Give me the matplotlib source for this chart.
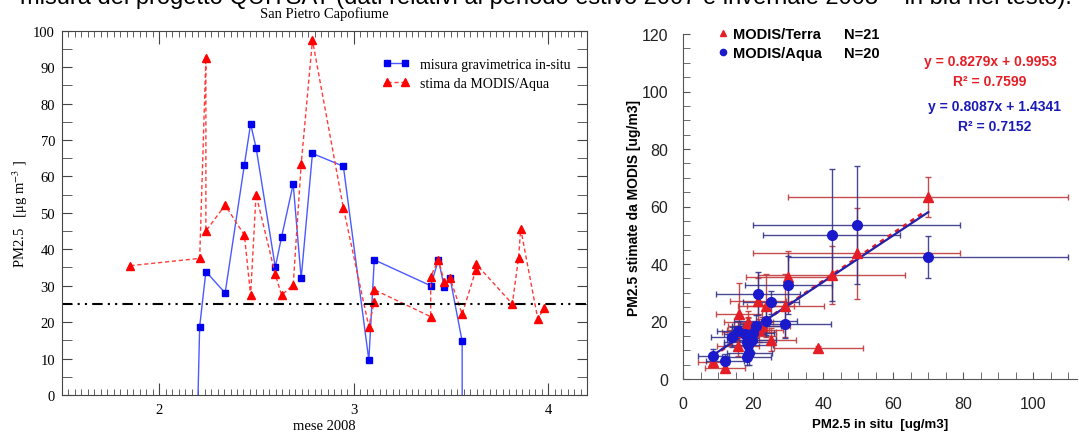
"""PM2.5 San Pietro Capofiume: time series and MODIS scatter comparison."""
import matplotlib
matplotlib.use("Agg")
import matplotlib.pyplot as plt
from matplotlib.lines import Line2D
from matplotlib.ticker import MultipleLocator
import numpy as np

# ---- left panel: time series (mese 2008), -999 = missing value
insitu_month = [1.75, 2.208, 2.240, 2.339, 2.438, 2.470, 2.498, 2.597, 2.629, 2.689,
                2.730, 2.788, 2.947, 3.078, 3.106, 3.396, 3.436, 3.466, 3.496, 3.558, 3.562]
insitu_pm25 = [-999, 18.8, 33.9, 28.0, 63.2, 74.4, 67.9, 35.1, 43.3, 57.9,
               32.0, 66.3, 62.8, 9.6, 37.1, 30.0, 37.1, 29.6, 32.0, 14.7, -999]

aqua_month = [1.852, 2.208, 2.240, 2.240, 2.339, 2.438, 2.470, 2.498, 2.597, 2.629,
              2.689, 2.730, 2.788, 2.947, 3.078, 3.106, 3.106, 3.396, 3.396, 3.436,
              3.466, 3.496, 3.558, 3.629, 3.629, 3.816, 3.848, 3.859, 3.947, 3.979]
aqua_pm25 = [35.5, 37.5, 92.5, 45.0, 52.1, 43.9, 27.4, 55.0, 33.1, 27.4,
             30.2, 63.3, 97.4, 51.4, 18.7, 25.6, 28.9, 21.5, 32.5, 37.1,
             31.1, 32.0, 22.2, 34.4, 36.0, 25.0, 37.7, 45.6, 20.9, 23.8]
limit_pm25 = 25

# ---- right panel: scatter in situ vs MODIS
terra_x = [8.6, 11.9, 15.7, 15.9, 18.4, 18.4, 18.6, 20.0, 19.5, 17.0, 21.5,
           21.3, 23.6, 25.1, 29.1, 30.0, 38.6, 42.4, 49.5, 70.0, 22.5]
terra_y = [6.0, 3.7, 11.6, 22.5, 17.1, 18.5, 19.7, 16.2, 15.0, 16.5, 17.0,
           27.1, 25.5, 13.7, 25.5, 35.4, 10.8, 36.2, 43.7, 63.2, 18.5]
terra_xerr = [4.5, 5.6, 6.0, 6.5, 6.0, 5.5, 7.0, 6.5, 7.0, 6.0, 7.0,
              8.0, 8.0, 7.0, 11.0, 12.0, 12.8, 21.0, 29.5, 40.0, 8.0]
terra_yerr = [1.2, 1.2, 3.5, 11.0, 4.0, 3.0, 4.0, 3.5, 3.0, 3.0, 4.0,
              8.0, 11.0, 4.0, 11.0, 9.0, 0.8, 10.0, 15.7, 7.0, 3.0]

aqua_x = [8.6, 11.9, 13.9, 15.7, 17.5, 18.1, 18.1, 18.9, 18.5, 19.6,
          20.0, 20.8, 21.3, 23.6, 25.1, 29.1, 30.0, 42.4, 49.5, 70.0]
aqua_y = [8.1, 6.1, 14.7, 16.6, 15.5, 12.9, 7.8, 8.9, 11.7, 13.4,
          16.0, 18.3, 29.6, 20.3, 26.7, 19.1, 32.7, 50.2, 53.7, 42.5]
aqua_xerr = [4.5, 5.5, 6.0, 6.0, 6.0, 6.5, 7.0, 6.5, 7.0, 7.0,
             6.0, 7.0, 12.0, 9.0, 8.0, 13.0, 12.5, 19.5, 29.5, 40.0]
aqua_yerr = [2.5, 2.5, 3.5, 3.5, 3.0, 3.0, 3.0, 4.0, 3.0, 4.0,
             3.0, 4.0, 7.5, 5.0, 4.0, 5.0, 10.0, 23.0, 20.5, 7.3]

terra_fit = (0.8279, 0.9953, 0.7599)
aqua_fit = (0.8087, 1.4341, 0.7152)

RED = "#e41e26"
BLUE = "#1a1acc"

fig = plt.figure(figsize=(10.79, 4.35), dpi=100)
W, H = 1079, 435

# heading of the page, only its lower part falls inside the picture
fig.text(20 / W, 1 - 4 / H,
         "misura del progetto QUITSAT (dati relativi al periodo estivo 2007 e invernale 2008 \u2013 in blu nel testo).",
         family="Liberation Sans", fontsize=17, va="baseline", ha="left")

# ---------------- left panel
serif = "Liberation Serif"
plt.rcParams["mathtext.fontset"] = "stix"
ax1 = fig.add_axes([62 / W, 1 - 396 / H, (587 - 62) / W, (396 - 31.7) / H])
ax1.plot(insitu_month, insitu_pm25, color="#4a5aff", lw=1.0, marker="s", ms=4.5,
         mfc="#0000ee", mec="#0000ee", label="misura gravimetrica in-situ")
ax1.plot(aqua_month, aqua_pm25, color="#ff3b3b", lw=1.0, ls=(0, (3, 2)), marker="^",
         ms=5.5, mfc="#ff0000", mec="#ff0000", label="stima da MODIS/Aqua")
ax1.axhline(limit_pm25, color="black", lw=1.5, ls=(0, (5, 2.5, 1, 2.5, 1, 2.5)))

ax1.set_xlim(1.5, 4.2)
ax1.set_ylim(0, 100)
ax1.set_xticks([2, 3, 4])
ax1.xaxis.set_minor_locator(MultipleLocator(1 / 30))
ax1.yaxis.set_major_locator(MultipleLocator(10))
ax1.yaxis.set_minor_locator(MultipleLocator(5))
ax1.tick_params(which="both", direction="in", top=True, right=True, color="#444444")
ax1.tick_params(axis="x", which="major", length=9, pad=6)
ax1.tick_params(axis="x", which="minor", length=4)
ax1.tick_params(axis="y", which="both", length=7, pad=5)
for lab in ax1.get_xticklabels() + ax1.get_yticklabels():
    lab.set_family(serif)
    lab.set_fontsize(10.5)
for sp in ax1.spines.values():
    sp.set_color("#444444")
ax1.set_title("San Pietro Capofiume", family=serif, fontsize=10.5, pad=10)
ax1.set_xlabel("mese 2008", family=serif, fontsize=10.5, labelpad=2)
ax1.set_ylabel("PM2.5   [\u03bcg m$^{-3}$ ]", family=serif, fontsize=10.5, labelpad=2)
ax1.legend(loc="upper left", bbox_to_anchor=((383 - 62) / 525, 0.925), frameon=False,
           borderpad=0, borderaxespad=0, numpoints=2, handlelength=1.9,
           handletextpad=0.75, labelspacing=0.45, prop={"family": serif, "size": 10})

# ---------------- right panel
ax2 = fig.add_axes([683.3 / W, 1 - 380 / H, (1076.7 - 683.3) / W, (380 - 35) / H])
ax2.errorbar(terra_x, terra_y, xerr=terra_xerr, yerr=terra_yerr, fmt="none",
             ecolor="#c0393c", elinewidth=1.0, capsize=2.5, capthick=1.0, alpha=0.9)
ax2.errorbar(aqua_x, aqua_y, xerr=aqua_xerr, yerr=aqua_yerr, fmt="none",
             ecolor="#34348c", elinewidth=1.0, capsize=2.5, capthick=1.0, alpha=0.9)

xt = np.array([min(terra_x), max(terra_x) - 1.5])
ax2.plot(xt, terra_fit[0] * xt + terra_fit[1], color=RED, lw=2.2, ls=(0, (1.5, 1.5)))
xa = np.array([min(aqua_x), max(aqua_x)])
ax2.plot(xa, aqua_fit[0] * xa + aqua_fit[1], color="#2222aa", lw=1.6)

ax2.plot(terra_x, terra_y, ls="none", marker="^", ms=7.5, color=RED)
ax2.plot(aqua_x, aqua_y, ls="none", marker="o", ms=7, color=BLUE)

ax2.set_xlim(0, 112.4)
ax2.set_ylim(0, 120)
ax2.xaxis.set_major_locator(MultipleLocator(20))
ax2.xaxis.set_minor_locator(MultipleLocator(5))
ax2.yaxis.set_major_locator(MultipleLocator(20))
ax2.yaxis.set_minor_locator(MultipleLocator(5))
ax2.tick_params(which="both", direction="in", length=5, color="#555555")
ax2.tick_params(axis="x", which="major", pad=12)
ax2.tick_params(axis="y", which="major", pad=11)
for lab in ax2.get_xticklabels() + ax2.get_yticklabels():
    lab.set_family("Liberation Sans")
    lab.set_fontsize(11.5)
    lab.set_color("#222222")
ax2.spines["top"].set_visible(False)
ax2.spines["right"].set_visible(False)
for sp in ("left", "bottom"):
    ax2.spines[sp].set_color("#555555")

ax2.set_xlabel("PM2.5 in situ  [ug/m3]", family="Liberation Sans", fontweight="bold",
               fontsize=9.5, labelpad=5)
ax2.set_ylabel("PM2.5 stimate da MODIS [ug/m3]", family="Liberation Sans",
               fontweight="bold", fontsize=10, labelpad=0)

handles = [Line2D([], [], ls="none", marker="^", ms=5, color=RED),
           Line2D([], [], ls="none", marker="o", ms=4.5, color=BLUE),
           Line2D([], [], ls="none"), Line2D([], [], ls="none")]
labels = ["MODIS/Terra", "MODIS/Aqua", "N=%d" % len(terra_x), "N=%d" % len(aqua_x)]
ax2.legend(handles, labels, loc="upper left", bbox_to_anchor=(0.09, 1.02), ncol=2,
           frameon=False, borderpad=0, borderaxespad=0, handlelength=0.6,
           handletextpad=0.4, columnspacing=0.5, labelspacing=0.35,
           prop={"family": "Liberation Sans", "weight": "bold", "size": 10.5})

bold = dict(family="Liberation Sans", fontweight="bold", fontsize=10, ha="center",
            va="center", transform=fig.transFigure)
fig.text(990 / W, 1 - 62 / H, "y = %.4fx + %.4f" % terra_fit[:2], color=RED, **bold)
fig.text(990 / W, 1 - 82 / H, "R\u00b2 = %.4f" % terra_fit[2], color=RED, **bold)
fig.text(995 / W, 1 - 107 / H, "y = %.4fx + %.4f" % aqua_fit[:2], color="#1a1ab4", **bold)
fig.text(995 / W, 1 - 127 / H, "R\u00b2 = %.4f" % aqua_fit[2], color="#1a1ab4", **bold)

fig.savefig("out.png", dpi=100)
